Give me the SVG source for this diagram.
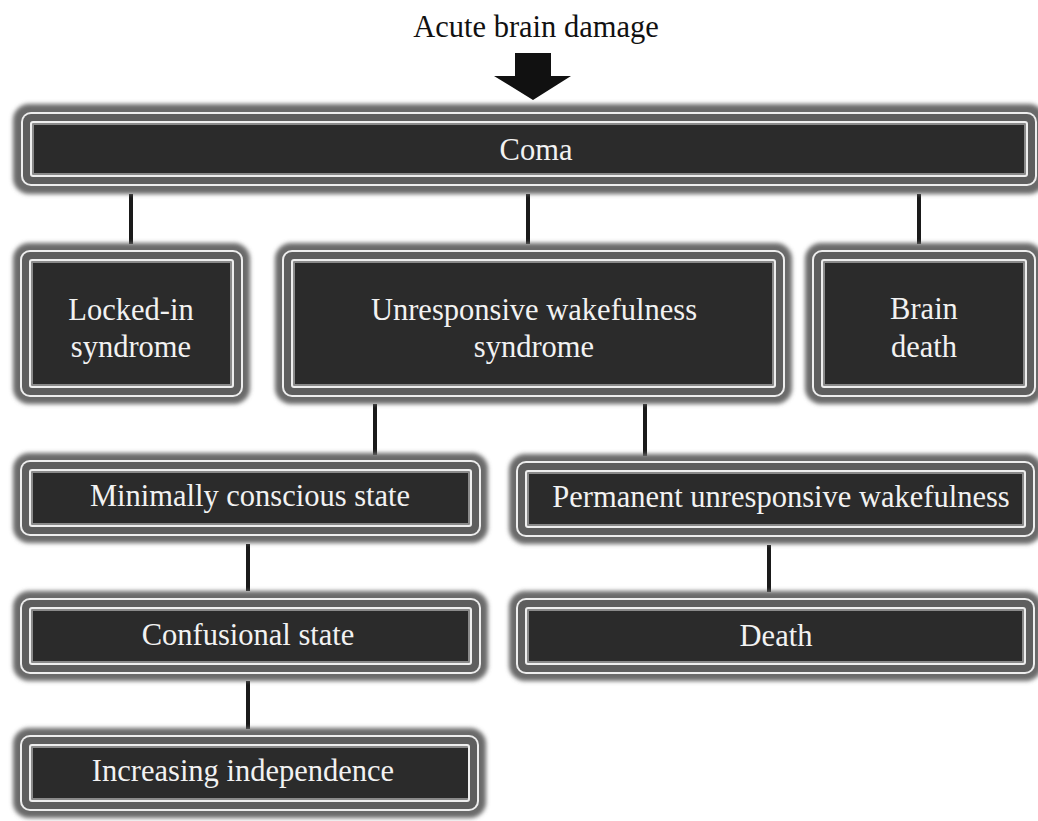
<svg xmlns="http://www.w3.org/2000/svg" width="1038" height="821" viewBox="0 0 1038 821">
<defs>
<filter id="soft" x="-5%" y="-20%" width="110%" height="140%"><feGaussianBlur stdDeviation="2"/></filter>
</defs>
<style>
.o{fill:#6a6a6a;filter:url(#soft)}
.w{fill:#eeeeee}
.g{fill:#5e5e5e}
.e{fill:#8a8a8a}
.d{fill:#2b2b2b}
.t{font-family:"Liberation Serif","Times New Roman",serif;font-size:30.5px;fill:#f2f2f2;text-anchor:middle}
.h{font-family:"Liberation Serif","Times New Roman",serif;font-size:30.5px;fill:#111;text-anchor:middle}
.c{stroke:#1a1a1a;stroke-width:4;fill:none}
</style>
<rect width="1038" height="821" fill="#ffffff"/>
<text class="h" x="536" y="37">Acute brain damage</text>
<polygon points="515,53 551,53 551,76 571,76 533,100 494,76 515,76" fill="#111111"/>
<g id="connectors">
<line class="c" x1="131" y1="194" x2="131" y2="244"/>
<line class="c" x1="528" y1="194" x2="528" y2="244"/>
<line class="c" x1="919" y1="194" x2="919" y2="244"/>
<line class="c" x1="375" y1="404" x2="375" y2="455"/>
<line class="c" x1="645" y1="404" x2="645" y2="456"/>
<line class="c" x1="248" y1="544" x2="248" y2="591"/>
<line class="c" x1="769" y1="545" x2="769" y2="592"/>
<line class="c" x1="248" y1="681" x2="248" y2="729"/>
</g>
<g id="coma">
<rect class="o" x="13" y="104" width="1032" height="90" rx="16"/>
<rect class="w" x="21" y="112" width="1016" height="74" rx="10"/>
<rect class="g" x="23" y="114" width="1012" height="70" rx="8"/>
<rect class="w" x="30" y="121" width="998" height="56" rx="3"/>
<rect class="e" x="32" y="123" width="994" height="52" rx="1"/>
<rect class="d" x="34" y="125" width="990" height="48"/>
<text class="t" x="536" y="160">Coma</text>
</g>
<g id="locked-in">
<rect class="o" x="13" y="243" width="237" height="161" rx="16"/>
<rect class="w" x="20" y="250" width="223" height="147" rx="10"/>
<rect class="g" x="22" y="252" width="219" height="143" rx="8"/>
<rect class="w" x="29" y="259" width="205" height="129" rx="3"/>
<rect class="e" x="31" y="261" width="201" height="125" rx="1"/>
<rect class="d" x="33" y="263" width="197" height="121"/>
<text class="t" x="131" y="320">Locked-in</text>
<text class="t" x="131" y="357">syndrome</text>
</g>
<g id="unresponsive">
<rect class="o" x="275" y="243" width="517" height="161" rx="16"/>
<rect class="w" x="282" y="250" width="503" height="147" rx="10"/>
<rect class="g" x="284" y="252" width="499" height="143" rx="8"/>
<rect class="w" x="291" y="259" width="485" height="129" rx="3"/>
<rect class="e" x="293" y="261" width="481" height="125" rx="1"/>
<rect class="d" x="295" y="263" width="477" height="121"/>
<text class="t" x="534" y="320">Unresponsive wakefulness</text>
<text class="t" x="534" y="357">syndrome</text>
</g>
<g id="brain-death">
<rect class="o" x="805" y="243" width="238" height="161" rx="16"/>
<rect class="w" x="812" y="250" width="224" height="147" rx="10"/>
<rect class="g" x="814" y="252" width="220" height="143" rx="8"/>
<rect class="w" x="821" y="259" width="206" height="129" rx="3"/>
<rect class="e" x="823" y="261" width="202" height="125" rx="1"/>
<rect class="d" x="825" y="263" width="198" height="121"/>
<text class="t" x="924" y="319">Brain</text>
<text class="t" x="924" y="357">death</text>
</g>
<g id="minimally">
<rect class="o" x="13" y="453" width="475" height="90" rx="16"/>
<rect class="w" x="20" y="460" width="461" height="76" rx="10"/>
<rect class="g" x="22" y="462" width="457" height="72" rx="8"/>
<rect class="w" x="29" y="469" width="443" height="58" rx="3"/>
<rect class="e" x="31" y="471" width="439" height="54" rx="1"/>
<rect class="d" x="33" y="473" width="435" height="50"/>
<text class="t" x="250" y="506">Minimally conscious state</text>
</g>
<g id="permanent">
<rect class="o" x="509" y="454" width="533" height="90" rx="16"/>
<rect class="w" x="516" y="461" width="519" height="76" rx="10"/>
<rect class="g" x="518" y="463" width="515" height="72" rx="8"/>
<rect class="w" x="525" y="470" width="501" height="58" rx="3"/>
<rect class="e" x="527" y="472" width="497" height="54" rx="1"/>
<rect class="d" x="529" y="474" width="493" height="50"/>
<text class="t" x="781" y="507">Permanent unresponsive wakefulness</text>
</g>
<g id="confusional">
<rect class="o" x="13" y="591" width="475" height="90" rx="16"/>
<rect class="w" x="20" y="598" width="461" height="76" rx="10"/>
<rect class="g" x="22" y="600" width="457" height="72" rx="8"/>
<rect class="w" x="29" y="607" width="443" height="58" rx="3"/>
<rect class="e" x="31" y="609" width="439" height="54" rx="1"/>
<rect class="d" x="33" y="611" width="435" height="50"/>
<text class="t" x="248" y="645">Confusional state</text>
</g>
<g id="death">
<rect class="o" x="509" y="591" width="533" height="90" rx="16"/>
<rect class="w" x="516" y="598" width="519" height="76" rx="10"/>
<rect class="g" x="518" y="600" width="515" height="72" rx="8"/>
<rect class="w" x="525" y="607" width="501" height="58" rx="3"/>
<rect class="e" x="527" y="609" width="497" height="54" rx="1"/>
<rect class="d" x="529" y="611" width="493" height="50"/>
<text class="t" x="776" y="646">Death</text>
</g>
<g id="increasing">
<rect class="o" x="13" y="728" width="473" height="90" rx="16"/>
<rect class="w" x="20" y="735" width="459" height="76" rx="10"/>
<rect class="g" x="22" y="737" width="455" height="72" rx="8"/>
<rect class="w" x="29" y="744" width="441" height="58" rx="3"/>
<rect class="e" x="31" y="746" width="437" height="54" rx="1"/>
<rect class="d" x="33" y="748" width="435" height="50"/>
<text class="t" x="243" y="781">Increasing independence</text>
</g>
</svg>
